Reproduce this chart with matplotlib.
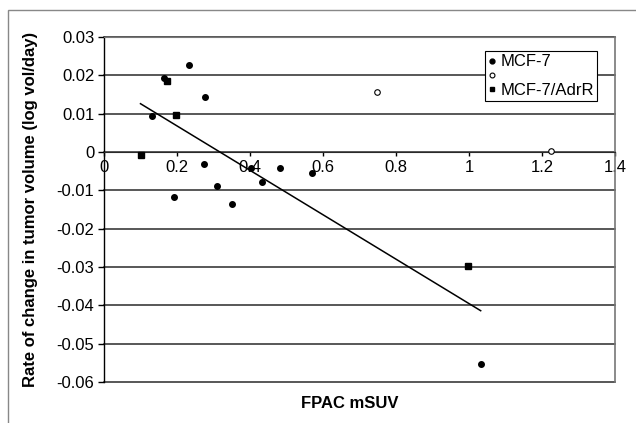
import matplotlib
matplotlib.use("Agg")
import matplotlib.pyplot as plt
from matplotlib.lines import Line2D
from matplotlib.patches import Rectangle

plt.rcParams['font.family'] = ['Liberation Sans', 'DejaVu Sans']

# Data
mcf7_x = [0.234, 0.164, 0.277, 0.131, 0.274, 0.402, 0.483, 0.571, 0.434, 0.309, 0.193, 0.352, 1.032]
mcf7_y = [0.0227, 0.0192, 0.0143, 0.0094, -0.0031, -0.0043, -0.0043, -0.0054, -0.0077, -0.0090, -0.0118, -0.0136, -0.0553]
open_x = [0.747, 1.226]
open_y = [0.0157, 0.0003]
adrr_x = [0.173, 0.196, 0.100, 0.998]
adrr_y = [0.0184, 0.0096, -0.0007, -0.0297]
trend_x = [0.100, 1.032]
trend_y = [0.0126, -0.0414]
x_ticks = [0, 0.2, 0.4, 0.6, 0.8, 1, 1.2, 1.4]
x_tick_labels = ['0', '0.2', '0.4', '0.6', '0.8', '1', '1.2', '1.4']
y_ticks = [0.03, 0.02, 0.01, 0, -0.01, -0.02, -0.03, -0.04, -0.05, -0.06]
y_tick_labels = ['0.03', '0.02', '0.01', '0', '-0.01', '-0.02', '-0.03', '-0.04', '-0.05', '-0.06']

fig = plt.figure(figsize=(6.36, 4.23), dpi=100)
# outer chart frame
fig.patches.append(Rectangle((8/636, -0.01), 1.0, 1 - 10/423 + 0.01, transform=fig.transFigure,
                             fill=False, edgecolor='#888888', lw=1.0))
ax = fig.add_axes([104/636, 1 - 382/423, (615-104)/636, (382-37)/423])
ax.set_xlim(0, 1.4)
ax.set_ylim(-0.06, 0.03)

for yv in y_ticks:
    ax.axhline(yv, color='#2a2a2a', lw=1.1, zorder=1, clip_on=False)

ax.plot(trend_x, trend_y, color='black', lw=1.1, zorder=3)
ax.plot(mcf7_x, mcf7_y, 'o', color='black', ms=4.0, ls='none', zorder=4)
ax.plot(open_x, open_y, 'o', mfc='white', mec='black', mew=0.8, ms=4.0, ls='none', zorder=4)
ax.plot(adrr_x, adrr_y, 's', color='black', ms=4.8, ls='none', zorder=4)

ax.spines['left'].set_color('black')
ax.spines['left'].set_linewidth(1.0)
ax.spines['bottom'].set_position(('data', 0))
ax.spines['bottom'].set_color('#2a2a2a')
ax.spines['top'].set_color('#777777')
ax.spines['right'].set_color('#777777')
ax.spines['right'].set_linewidth(1.2)

ax.set_xticks(x_ticks)
ax.set_xticklabels(x_tick_labels, fontsize=12)
ax.set_yticks(y_ticks)
ax.set_yticklabels(y_tick_labels, fontsize=12)
ax.tick_params(axis='x', direction='out', length=3, width=1, color='black', pad=3)
ax.tick_params(axis='y', direction='out', length=4, width=1, color='black', pad=3)

ax.set_xlabel('FPAC mSUV', fontsize=12, fontweight='bold')
ax.xaxis.set_label_coords(0.48, -0.04)
ax.set_ylabel('Rate of change in tumor volume (log vol/day)', fontsize=12, fontweight='bold')
ax.yaxis.set_label_coords(-0.13, 0.5)

handles = [
    Line2D([], [], marker='o', color='black', ls='none', ms=3.5),
    Line2D([], [], marker='o', mfc='white', mec='black', mew=0.8, ls='none', ms=3.5),
    Line2D([], [], marker='s', color='black', ls='none', ms=3.5),
]
leg = ax.legend(handles, ['MCF-7', '', 'MCF-7/AdrR'], loc='upper right',
                bbox_to_anchor=(0.965, 0.959), borderaxespad=0, fontsize=12,
                frameon=True, fancybox=False, edgecolor='black', framealpha=1,
                handlelength=0.4, handletextpad=0.3, labelspacing=-0.05,
                borderpad=0.2)
leg.get_frame().set_linewidth(0.8)

fig.savefig('out.png', dpi=100)
